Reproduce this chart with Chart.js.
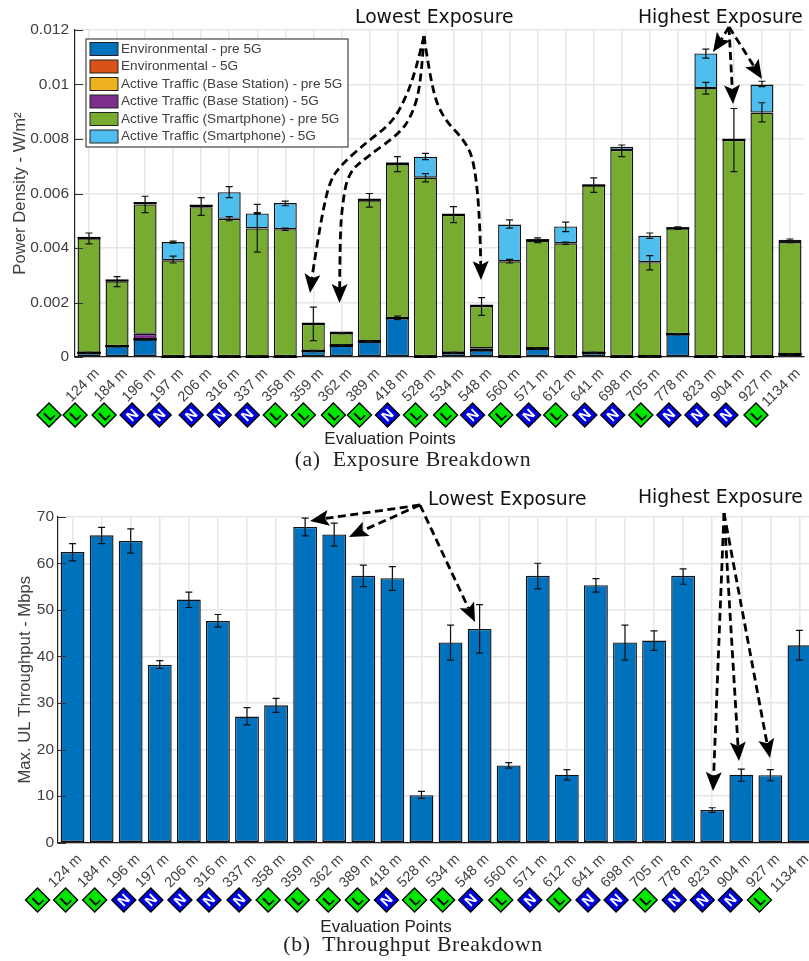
<!DOCTYPE html>
<html>
<head>
<meta charset="utf-8">
<script src="https://cdn.jsdelivr.net/npm/chart.js@4"></script>
<style>
  html, body { margin: 0; padding: 0; background: #fff; }
  body { width: 809px; height: 961px; overflow: hidden; position: relative; }
  canvas { position: absolute; left: 0; }
  .caption {
    position: absolute; left: 0; width: 826px; text-align: center;
    font-family: "Liberation Serif", serif; font-size: 21.8px; color: #222;
    white-space: pre; letter-spacing: 0.58px;
  }
</style>
</head>
<body>
<canvas id="topChart" width="809" height="450" style="top:0"></canvas>
<canvas id="bottomChart" width="830" height="461" style="top:475px"></canvas>
<div class="caption" style="top:447px">(a)  Exposure Breakdown</div>
<div class="caption" style="top:932px">(b)  Throughput Breakdown</div>

<script>
// Evaluation points, same order in both charts
const distances = ["124 m", "184 m", "196 m", "197 m", "206 m", "316 m", "337 m", "358 m", "359 m", "362 m", "389 m", "418 m", "528 m",
  "534 m", "548 m", "560 m", "571 m", "612 m", "641 m", "698 m", "705 m", "778 m", "823 m", "904 m", "927 m", "1134 m"];
const losTypes = ["L", "L", "L", "N", "N", "N", "N", "N", "L", "L", "L", "L", "N", "L", "L", "N", "L", "N", "L", "N", "N", "L", "N", "N", "N", "L"];

// Exposure segments (W/m2), each one is the height of its own piece of the stack
const envPre = [0.00015, 0.0004, 0.00065, 0, 0.00001, 0, 0.00001, 0, 0.00022, 0.00042, 0.00057, 0.00143, 0,
  0.00015, 0.00025, 0, 0.00031, 0, 0.00015, 0, 0.00002, 0.00084, 0, 0, 0, 0.0001];
const env5G = [0, 0, 0, 0, 0, 0, 0, 0, 0, 0, 0, 0, 0, 0, 0, 0, 0, 0, 0, 0, 0, 0, 0, 0, 0, 0];
const basePre = [0, 0, 0, 0, 0, 0, 0, 0, 0, 0, 0, 0, 0, 0, 0, 0, 0, 0, 0, 0, 0, 0, 0, 0, 0, 0];
const base5G = [0, 0, 0.0002, 0, 0, 0, 0, 0, 0, 0, 0, 0, 0, 0, 0.00007, 0, 0, 0, 0, 0, 0, 0, 0, 0, 0, 0];
const phonePre = [0.0042, 0.00238, 0.00475, 0.00355, 0.00549, 0.00507, 0.00471, 0.00469, 0.001, 0.00046, 0.00518, 0.00565, 0.00658,
  0.00507, 0.00156, 0.00351, 0.00396, 0.00417, 0.00615, 0.0076, 0.00346, 0.00388, 0.00987, 0.00797, 0.00897, 0.00412];
const phone5G = [0.00002, 0.00003, 0.00005, 0.00067, 0.00005, 0.00098, 0.00055, 0.00096, 0, 0.00001, 0.00002, 0.00002, 0.00077,
  0, 0, 0.00135, 0.00002, 0.00062, 0, 0.00012, 0.00097, 0.00001, 0.00127, 0, 0.00103, 0.00008];

// Whisker ends in the exposure chart (absolute heights)
const envErrLow = [0.00013, 0.00038, 0.00063, 0, 0, 0, 0, 0, 0.0002, 0.0004, 0.00055, 0.00137, 0,
  0.00013, 0.00023, 0, 0.00029, 0, 0.00013, 0, 0, 0.00082, 0, 0, 0, 0.00008];
const envErrHigh = [0.00017, 0.00042, 0.00067, 0.00002, 0.00002, 0.00002, 0.00002, 0.00002, 0.00024, 0.00044, 0.00059, 0.0015, 0.00002,
  0.00017, 0.00027, 0.00002, 0.00033, 0.00002, 0.00017, 0.00002, 0.00004, 0.00086, 0.00002, 0.00002, 0.00002, 0.00012];
const phoneErrLow = [0.00415, 0.00258, 0.0053, 0.00345, 0.0052, 0.005, 0.00385, 0.00465, 0.0006, 0.00086, 0.0055, 0.0068, 0.00643,
  0.00493, 0.00153, 0.00345, 0.0042, 0.00413, 0.00604, 0.00735, 0.0032, 0.00468, 0.00965, 0.0068, 0.00863, 0.0042];
const phoneErrHigh = [0.00455, 0.00295, 0.0059, 0.0037, 0.00585, 0.00515, 0.0056, 0.00473, 0.00183, 0.0009, 0.006, 0.00735, 0.00673,
  0.00552, 0.00218, 0.00358, 0.00437, 0.00422, 0.00657, 0.00778, 0.00372, 0.00478, 0.01008, 0.00912, 0.00933, 0.00433];
const topErrLow = [null, null, null, 0.00418, null, 0.00585, 0.00525, 0.00555, null, null, null, null, 0.00724,
  null, null, 0.00473, null, 0.0046, null, null, 0.00435, null, 0.01097, null, 0.00992, null];
const topErrHigh = [null, null, null, 0.00425, null, 0.00625, 0.0053, 0.00572, null, null, null, null, 0.00747,
  null, null, 0.00503, null, 0.00495, null, null, 0.00455, null, 0.0113, null, 0.01012, null];

// Max UL throughput (Mbps) and whisker ends
const throughput = [62.4, 66, 64.8, 38.2, 52.2, 47.6, 27.1, 29.5, 67.8, 66.2, 57.3, 56.8, 10.2,
  43, 45.9, 16.6, 57.3, 14.6, 55.3, 43, 43.4, 57.3, 7, 14.6, 14.5, 42.4];
const throughputLow = [60.5, 64.2, 62.2, 37.4, 50.5, 46.3, 25.3, 28, 65.9, 63.7, 55, 54.2, 9.5,
  39.2, 40.7, 16, 54.5, 13.5, 53.8, 39.2, 41.3, 55.5, 6.5, 13.2, 13.3, 39.2];
const throughputHigh = [64.2, 67.7, 67.4, 39.1, 53.8, 49, 29, 31, 69.7, 68.6, 59.6, 59.3, 11,
  46.7, 51.1, 17.2, 60, 15.7, 56.7, 46.7, 45.5, 58.8, 7.5, 15.8, 15.7, 45.6];

const textColor = "#404040";
const gridColor = "#e6e6e6";
const sansFont = '"Liberation Sans", Arial, sans-serif';

// hand placed diamonds: distance left of each tick
const topBadgeShift = [40, 42, 41, 41, 42, 38, 38, 38, 38, 38, 36, 38, 38, 38, 36, 37, 37, 37, 38, 37, 37, 37, 37, 37, 36, 34];
const bottomBadgeShift = [35, 36, 36, 36, 38, 38, 38, 37, 37, 37, 35, 35, 35, 36, 37, 38, 37, 37, 37, 37, 38, 38, 38, 39, 40, 40];

// annotation arrows, page coordinates: path points then the tip
const topArrows = [
  [[424, 36], [415, 75], [400, 110], [388, 126], [367, 142], [343, 163], [330, 180], [322, 215], [313, 270], [310, 293]],
  [[424, 36], [421, 85], [412, 115], [400, 133], [367, 157], [348, 173], [342, 207], [340, 240], [339.5, 303]],
  [[424, 36], [431, 85], [442, 117], [467, 143], [475, 167], [480, 220], [481, 280]],
  [[729, 27], [721, 40], [713, 52]],
  [[729, 27], [731, 65], [733, 104]],
  [[729, 27], [745, 52], [762, 79]],
];
const bottomArrows = [
  [[420, 505], [365, 512], [310, 521]],
  [[420, 505], [385, 520], [349, 537]],
  [[420, 505], [447, 563], [475, 622]],
  [[724, 513], [719, 650], [713, 791]],
  [[724, 513], [731, 640], [739, 761]],
  [[724, 513], [746, 640], [770, 758]],
];

function drawArrow(ctx, pts) {
  const tip = pts[pts.length - 1];
  const prev = pts[pts.length - 2];
  const angle = Math.atan2(tip[1] - prev[1], tip[0] - prev[0]);
  const len = 19, half = 8, notch = 15;
  const end = [tip[0] - Math.cos(angle) * notch, tip[1] - Math.sin(angle) * notch];

  ctx.beginPath();
  ctx.moveTo(pts[0][0], pts[0][1]);
  for (let i = 1; i < pts.length - 2; i++) {
    const mx = (pts[i][0] + pts[i + 1][0]) / 2;
    const my = (pts[i][1] + pts[i + 1][1]) / 2;
    ctx.quadraticCurveTo(pts[i][0], pts[i][1], mx, my);
  }
  if (pts.length > 3) {
    ctx.quadraticCurveTo(pts[pts.length - 2][0], pts[pts.length - 2][1], end[0], end[1]);
  } else {
    ctx.lineTo(end[0], end[1]);
  }
  ctx.setLineDash([8, 4.5]);
  ctx.lineWidth = 2.8;
  ctx.strokeStyle = "#000";
  ctx.stroke();
  ctx.setLineDash([]);

  ctx.save();
  ctx.translate(tip[0], tip[1]);
  ctx.rotate(angle);
  ctx.beginPath();
  ctx.moveTo(0, 0);
  ctx.lineTo(-len, -half);
  ctx.lineTo(-notch, 0);
  ctx.lineTo(-len, half);
  ctx.closePath();
  ctx.fillStyle = "#000";
  ctx.fill();
  ctx.restore();
}

function drawWhiskers(chart, low, high) {
  const ctx = chart.ctx;
  const xs = chart.scales.x;
  const ys = chart.scales.y;
  ctx.strokeStyle = "#111";
  ctx.lineWidth = 1.2;
  low.forEach((v, i) => {
    if (v === null || high[i] === null) return;
    const x = xs.getPixelForValue(i);
    const y0 = ys.getPixelForValue(v);
    const y1 = ys.getPixelForValue(high[i]);
    ctx.beginPath();
    ctx.moveTo(x, y0);
    ctx.lineTo(x, y1);
    ctx.moveTo(x - 3.5, y0);
    ctx.lineTo(x + 3.5, y0);
    ctx.moveTo(x - 3.5, y1);
    ctx.lineTo(x + 3.5, y1);
    ctx.stroke();
  });
}

// very thin segments still show their outline, which thickens the stack line
function drawThinSegments(chart) {
  const ctx = chart.ctx;
  ctx.strokeStyle = "#000";
  ctx.lineWidth = 2;
  chart.data.datasets.forEach((ds, d) => {
    chart.getDatasetMeta(d).data.forEach((bar) => {
      if (Math.abs(bar.base - bar.y) > 1.5) return;
      ctx.beginPath();
      ctx.moveTo(bar.x - bar.width / 2, bar.y);
      ctx.lineTo(bar.x + bar.width / 2, bar.y);
      ctx.stroke();
    });
  });
}

function drawBadge(ctx, x, y, type) {
  const r = 12;
  ctx.beginPath();
  ctx.moveTo(x, y - r);
  ctx.lineTo(x + r, y);
  ctx.lineTo(x, y + r);
  ctx.lineTo(x - r, y);
  ctx.closePath();
  ctx.fillStyle = type === "L" ? "#00e600" : "#0000e6";
  ctx.fill();
  ctx.lineWidth = 1.4;
  ctx.strokeStyle = "#000";
  ctx.stroke();
  ctx.save();
  ctx.translate(x, y);
  ctx.rotate(-Math.PI / 4);
  ctx.fillStyle = type === "L" ? "#000" : "#fff";
  ctx.font = "bold 14.5px " + sansFont;
  ctx.textAlign = "center";
  ctx.textBaseline = "middle";
  ctx.fillText(type, 0, 1);
  ctx.restore();
}

function drawLegend(chart) {
  const ctx = chart.ctx;
  const left = 86, top = 39, w = 262, h = 108, rowH = 17.5;
  ctx.fillStyle = "#fff";
  ctx.fillRect(left, top, w, h);
  ctx.strokeStyle = "#444";
  ctx.lineWidth = 1.2;
  ctx.strokeRect(left, top, w, h);
  ctx.font = "13.6px " + sansFont;
  ctx.textAlign = "left";
  ctx.textBaseline = "middle";
  chart.data.datasets.forEach((ds, i) => {
    const cy = top + 10 + rowH * i;
    ctx.fillStyle = ds.backgroundColor;
    ctx.fillRect(90, cy - 6.5, 28, 13);
    ctx.strokeStyle = "#222";
    ctx.lineWidth = 1;
    ctx.strokeRect(90, cy - 6.5, 28, 13);
    ctx.fillStyle = textColor;
    ctx.fillText(ds.label, 121, cy);
  });
}

// draws everything Chart.js has no element for
function overlayPlugin(cfg) {
  return {
    id: "overlay",
    afterDraw(chart) {
      const ctx = chart.ctx;
      const xs = chart.scales.x;
      const ys = chart.scales.y;
      const area = chart.chartArea;

      // y ticks point inwards like in matlab
      ctx.strokeStyle = "#333";
      ctx.lineWidth = 1;
      ys.ticks.forEach((t) => {
        const y = Math.round(ys.getPixelForValue(t.value)) + 0.5;
        ctx.beginPath();
        ctx.moveTo(area.left, y);
        ctx.lineTo(area.left + 8, y);
        ctx.stroke();
      });

      drawThinSegments(chart);
      cfg.whiskers.forEach((w) => drawWhiskers(chart, w[0], w[1]));
      if (cfg.legend) drawLegend(chart);

      ctx.save();
      ctx.translate(0, -cfg.canvasTop);
      cfg.arrows.forEach((pts) => drawArrow(ctx, pts));

      ctx.fillStyle = "#111";
      ctx.font = '18.8px "DejaVu Sans", sans-serif';
      ctx.textAlign = "left";
      ctx.textBaseline = "middle";
      cfg.labels.forEach((l) => ctx.fillText(l[0], l[1], l[2]));

      losTypes.forEach((type, i) => {
        drawBadge(ctx, xs.getPixelForValue(i) - cfg.badgeShift[i], cfg.badgeY, type);
      });

      ctx.fillStyle = "#222";
      ctx.font = "17px " + sansFont;
      ctx.textAlign = "center";
      ctx.fillText("Evaluation Points", cfg.xTitleX, cfg.xTitleY);
      ctx.restore();
    },
  };
}

function barOptions(cfg) {
  return {
    responsive: false,
    animation: false,
    layout: { padding: { top: cfg.plotTop, right: cfg.rightPad, left: 0, bottom: 0 } },
    plugins: { legend: { display: false }, tooltip: { enabled: false } },
    scales: {
      x: {
        stacked: true,
        grid: { color: gridColor, lineWidth: 1.5, offset: false, drawTicks: false },
        border: { display: true, color: "#222", width: 1.2 },
        ticks: {
          autoSkip: false,
          minRotation: 45,
          maxRotation: 45,
          padding: 8,
          labelOffset: cfg.labelOffset,
          color: textColor,
          font: { family: sansFont, size: 14.5 },
        },
        afterFit(scale) {
          scale.height = cfg.xHeight;
          scale.paddingLeft = 0;
          scale.paddingRight = 0;
        },
      },
      y: {
        stacked: true,
        min: 0,
        max: cfg.yMax,
        grid: { color: gridColor, lineWidth: 1.5, drawTicks: false },
        border: { display: true, color: "#222", width: 1.2 },
        ticks: {
          stepSize: cfg.yStep,
          padding: cfg.yTickPad,
          color: textColor,
          font: { family: sansFont, size: 15.5 },
          callback: (v) => String(+v.toFixed(3)),
        },
        title: {
          display: true,
          text: cfg.yTitle,
          color: textColor,
          font: { family: sansFont, size: 16.7 },
          padding: { top: cfg.yTitlePad, bottom: 0 },
        },
        afterFit(scale) {
          scale.width = cfg.yWidth;
          scale.paddingTop = 0;
          scale.paddingBottom = 0;
        },
      },
    },
  };
}

function segment(label, data, color) {
  return {
    label: label,
    data: data,
    backgroundColor: color,
    borderColor: "#111",
    borderWidth: 1.4,
    borderSkipped: false,
    barPercentage: 0.82,
    categoryPercentage: 1,
  };
}

new Chart(document.getElementById("topChart"), {
  type: "bar",
  data: {
    labels: distances,
    datasets: [
      segment("Environmental - pre 5G", envPre, "#0072BD"),
      segment("Environmental - 5G", env5G, "#D95319"),
      segment("Active Traffic (Base Station) - pre 5G", basePre, "#EDB120"),
      segment("Active Traffic (Base Station) - 5G", base5G, "#7E2F8E"),
      segment("Active Traffic (Smartphone) - pre 5G", phonePre, "#77AC30"),
      segment("Active Traffic (Smartphone) - 5G", phone5G, "#4DBEEE"),
    ],
  },
  options: barOptions({
    plotTop: 30, rightPad: 5, xHeight: 93, yWidth: 75, yMax: 0.012, yStep: 0.002,
    labelOffset: 8, yTickPad: 6, yTitlePad: 10, yTitle: "Power Density - W/m²",
  }),
  plugins: [overlayPlugin({
    canvasTop: 0,
    legend: true,
    whiskers: [[envErrLow, envErrHigh], [phoneErrLow, phoneErrHigh], [topErrLow, topErrHigh]],
    arrows: topArrows,
    labels: [["Lowest Exposure", 355, 18], ["Highest Exposure", 638, 18]],
    badgeShift: topBadgeShift,
    badgeY: 415,
    xTitleX: 390,
    xTitleY: 439,
  })],
});

new Chart(document.getElementById("bottomChart"), {
  type: "bar",
  data: {
    labels: distances,
    datasets: [segment("Max. UL Throughput", throughput, "#0072BD")],
  },
  options: barOptions({
    plotTop: 41.7, rightPad: 16, xHeight: 93.3, yWidth: 58, yMax: 70, yStep: 10,
    labelOffset: 7, yTickPad: 4, yTitlePad: 15, yTitle: "Max. UL Throughput - Mbps",
  }),
  plugins: [overlayPlugin({
    canvasTop: 475,
    legend: false,
    whiskers: [[throughputLow, throughputHigh]],
    arrows: bottomArrows,
    labels: [["Lowest Exposure", 428, 500], ["Highest Exposure", 638, 498]],
    badgeShift: bottomBadgeShift,
    badgeY: 900,
    xTitleX: 386,
    xTitleY: 927,
  })],
});
</script>
</body>
</html>
